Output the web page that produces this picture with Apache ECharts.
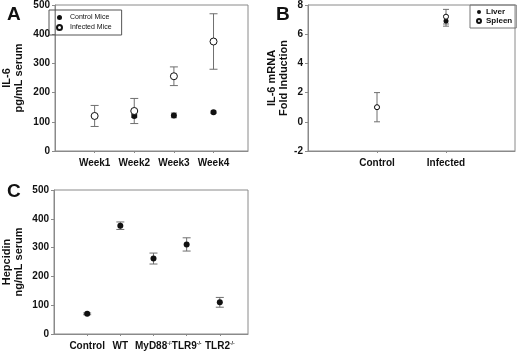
<!DOCTYPE html>
<html>
<head>
<meta charset="utf-8">
<script src="https://cdn.jsdelivr.net/npm/echarts@6/dist/echarts.min.js"></script>
<style>
    html, body { margin: 0; padding: 0; background: #fff; }
    #chart { width: 520px; height: 351px; }
</style>
</head>
<body>
<div id="chart"></div>
<script>
    // panel A: IL-6 in serum
    var weekLabels = ['Week1', 'Week2', 'Week3', 'Week4'];
    var controlMice = [120, 120, 122, 133];
    var controlMiceErr = [4, 5, 8, 4];
    var infectedMice = [120, 137, 256, 375];
    var infectedMiceErr = [36, 43, 32, 95];
    var il6Ticks = [0, 100, 200, 300, 400, 500];

    // panel B: IL-6 mRNA fold induction
    var organGroups = ['Control', 'Infected'];
    var liver = [1, 6.9];
    var liverErr = [0, 0.35];
    var spleen = [1, 7.2];
    var spleenErr = [1, 0.5];
    var foldTicks = [-2, 0, 2, 4, 6, 8];

    // panel C: hepcidin
    var hepGroups = ['Control', 'WT', 'MyD88', 'TLR9', 'TLR2'];
    var hepSup = ['', '', '-/-', '-/-', '-/-'];
    var hepcidin = [70, 376, 262, 311, 110];
    var hepcidinErr = [3, 13, 19, 23, 17];
    var hepTicks = [0, 100, 200, 300, 400, 500];

    var FONT = 'Liberation Sans Narrow, Arial Narrow, Liberation Sans, sans-serif';
    var FONT_W = 'Liberation Sans, Arial, sans-serif';
    var FRAME = '#8a8a8a';
    var ERR = '#6f6f6f';

    function toPoints(vals) {
        return vals.map(function(v, i) { return [i + 1, v]; });
    }
    function toErr(vals, errs) {
        return vals.map(function(v, i) { return [i + 1, v - errs[i], v + errs[i]]; });
    }

    function errorSeries(name, idx, data, cap) {
        return {
            type: 'custom',
            name: name,
            xAxisIndex: idx,
            yAxisIndex: idx,
            z: 1,
            silent: true,
            data: data,
            renderItem: function(params, api) {
                var lo = api.coord([api.value(0), api.value(1)]);
                var hi = api.coord([api.value(0), api.value(2)]);
                var st = { stroke: ERR, lineWidth: 1 };
                return {
                    type: 'group',
                    children: [
                        { type: 'line', shape: { x1: lo[0], y1: lo[1], x2: hi[0], y2: hi[1] }, style: st },
                        { type: 'line', shape: { x1: lo[0] - cap, y1: lo[1], x2: lo[0] + cap, y2: lo[1] }, style: st },
                        { type: 'line', shape: { x1: hi[0] - cap, y1: hi[1], x2: hi[0] + cap, y2: hi[1] }, style: st }
                    ]
                };
            }
        };
    }

    function pointSeries(name, idx, data, open, size) {
        return {
            type: 'scatter',
            name: name,
            xAxisIndex: idx,
            yAxisIndex: idx,
            z: 3,
            symbol: 'circle',
            symbolSize: size,
            itemStyle: open
                ? { color: '#fff', borderColor: '#111', borderWidth: 1, opacity: 1 }
                : { color: '#111', opacity: 1 },
            data: data
        };
    }

    function yAxis(idx, min, max, interval, name, gap) {
        return {
            type: 'value',
            gridIndex: idx,
            min: min,
            max: max,
            interval: interval,
            name: name,
            nameLocation: 'middle',
            nameGap: gap,
            nameTextStyle: { fontFamily: FONT, fontWeight: 'bold', fontSize: 11, color: '#111', lineHeight: 12 },
            axisLine: { show: true, onZero: false, lineStyle: { color: FRAME } },
            axisTick: { show: true, length: 3, lineStyle: { color: FRAME } },
            axisLabel: { fontFamily: FONT, fontWeight: 'bold', fontSize: 10, color: '#111', margin: 5 },
            splitLine: { show: false }
        };
    }

    function xAxis(idx, max, labels, rich) {
        return {
            type: 'value',
            gridIndex: idx,
            min: 0,
            max: max,
            interval: 1,
            axisLine: { show: true, onZero: false, lineStyle: { color: FRAME } },
            axisTick: { show: true, length: 2, lineStyle: { color: FRAME } },
            axisLabel: {
                fontFamily: FONT,
                fontWeight: 'bold',
                fontSize: 10,
                color: '#111',
                margin: 7,
                showMaxLabel: false,
                showMinLabel: false,
                rich: rich,
                formatter: function(v) {
                    var k = Math.round(v);
                    if (Math.abs(v - k) > 1e-6 || k < 1 || k > labels.length) return '';
                    return labels[k - 1];
                }
            },
            splitLine: { show: false }
        };
    }

    var hepLabels = hepGroups.map(function(g, i) {
        return hepSup[i] ? g + '{sup|' + hepSup[i] + '}' : g;
    });

    var chart = echarts.init(document.getElementById('chart'), null, { renderer: 'canvas' });
    var option = {
        backgroundColor: '#fff',
        animation: false,
        textStyle: { fontFamily: FONT },
        title: [
            { text: 'A', left: 2, top: 0, textStyle: { fontFamily: FONT_W, fontWeight: 'bold', fontSize: 19, color: '#111' } },
            { text: 'B', left: 271, top: 0, textStyle: { fontFamily: FONT_W, fontWeight: 'bold', fontSize: 19, color: '#111' } },
            { text: 'C', left: 2, top: 177, textStyle: { fontFamily: FONT_W, fontWeight: 'bold', fontSize: 19, color: '#111' } }
        ],
        legend: [
            {
                data: ['Control Mice', 'Infected Mice'],
                orient: 'vertical',
                left: 49,
                top: 10,
                padding: [4, 10, 4, 7],
                itemGap: 3,
                itemWidth: 5,
                itemHeight: 5,
                borderColor: '#555',
                borderWidth: 1,
                selectedMode: false,
                textStyle: { fontFamily: FONT_W, fontSize: 7, color: '#111', padding: [0, 0, 0, 3] }
            },
            {
                data: ['Liver', 'Spleen'],
                orient: 'vertical',
                left: 470,
                top: 5,
                padding: [3, 4, 3, 6],
                itemGap: 1,
                itemWidth: 4,
                itemHeight: 4,
                borderColor: '#777',
                borderWidth: 1,
                selectedMode: false,
                textStyle: { fontFamily: FONT_W, fontWeight: 'bold', fontSize: 8, color: '#111', padding: [0, 0, 0, 0] }
            }
        ],
        grid: [
            { left: 46, top: 5, width: 202, height: 146, show: true, borderColor: FRAME, borderWidth: 1 },
            { left: 308, top: 5, width: 207, height: 146, show: true, borderColor: FRAME, borderWidth: 1 },
            { left: 43, top: 190, width: 205, height: 147, show: true, borderColor: FRAME, borderWidth: 1 }
        ],
        xAxis: [
            xAxis(0, 4.87, weekLabels),
            xAxis(1, 3, organGroups),
            xAxis(2, 5.85, hepLabels, {
                sup: { fontFamily: FONT, fontWeight: 'bold', fontSize: 5, color: '#111', verticalAlign: 'top', padding: [0, 0, 5, 0] }
            })
        ],
        yAxis: [
            yAxis(0, il6Ticks[0], il6Ticks[il6Ticks.length - 1], 100, 'IL-6\npg/mL serum', 30),
            yAxis(1, foldTicks[0], foldTicks[foldTicks.length - 1], 2, 'IL-6 mRNA\nFold Induction', 18),
            yAxis(2, hepTicks[0], hepTicks[hepTicks.length - 1], 100, 'Hepcidin\nng/mL serum', 29)
        ],
        series: [
            errorSeries('Control Mice err', 0, toErr(controlMice, controlMiceErr), 3),
            errorSeries('Infected Mice err', 0, toErr(infectedMice, infectedMiceErr), 4),
            pointSeries('Control Mice', 0, toPoints(controlMice), false, 6),
            pointSeries('Infected Mice', 0, toPoints(infectedMice), true, 7),

            errorSeries('Liver err', 1, toErr(liver, liverErr), 3),
            errorSeries('Spleen err', 1, toErr(spleen, spleenErr), 3),
            pointSeries('Liver', 1, toPoints(liver), false, 5),
            pointSeries('Spleen', 1, toPoints(spleen), true, 5),

            errorSeries('Hepcidin err', 2, toErr(hepcidin, hepcidinErr), 4),
            pointSeries('Hepcidin', 2, toPoints(hepcidin), false, 6)
        ]
    };
    chart.setOption(option);
</script>
</body>
</html>
